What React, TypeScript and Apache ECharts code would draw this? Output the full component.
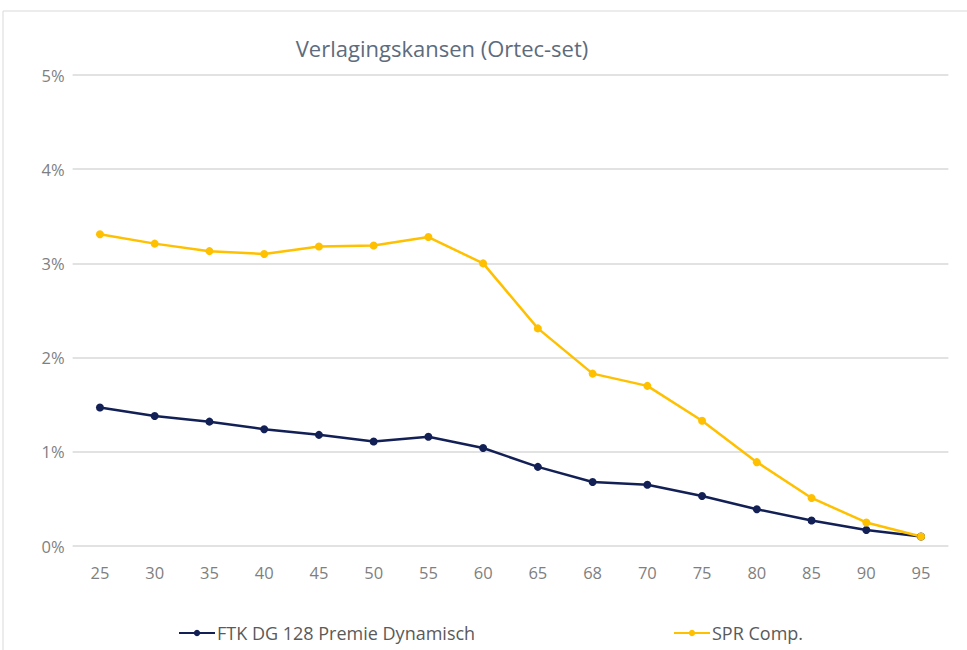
import React, { useEffect, useRef } from "react";
import * as echarts from "echarts";

const categories = ["25", "30", "35", "40", "45", "50", "55", "60", "65", "68", "70", "75", "80", "85", "90", "95"];
const ftkValues = [1.47, 1.38, 1.32, 1.24, 1.18, 1.11, 1.16, 1.04, 0.84, 0.68, 0.65, 0.53, 0.39, 0.27, 0.17, 0.10];
const sprValues = [3.31, 3.21, 3.13, 3.10, 3.18, 3.19, 3.28, 3.00, 2.31, 1.83, 1.70, 1.33, 0.89, 0.51, 0.25, 0.10];
const seriesNames = ["FTK DG 128 Premie Dynamisch", "SPR Comp."];
const titleText = "Verlagingskansen (Ortec-set)";

const FONT = "'Open Sans', 'Noto Sans', sans-serif";

export default function App() {
  const ref = useRef<HTMLDivElement>(null);
  useEffect(() => {
    if (!ref.current) return;
    const chart = echarts.init(ref.current, null, { renderer: "svg" });
    chart.setOption({
      animation: false,
      backgroundColor: "#ffffff",
      graphic: [
        {
          type: "rect",
          shape: { x: 3, y: 11, width: 1000, height: 700 },
          style: { fill: "none", stroke: "#d9d9d9", lineWidth: 1 },
          silent: true,
        },
      ],
      title: {
        text: titleText,
        left: 437,
        textAlign: "center",
        top: 32,
        textStyle: { fontFamily: FONT, fontSize: 22, fontWeight: "normal", color: "#5d6b7c" },
      },
      legend: [
        {
          data: [seriesNames[0]],
          left: 173,
          top: 619,
          itemWidth: 36,
          itemHeight: 8,
          textStyle: { fontFamily: FONT, fontSize: 18, color: "#5a5a5a", padding: [0, 0, 0, -3] },
        },
        {
          data: [seriesNames[1]],
          left: 668,
          top: 619,
          itemWidth: 36,
          itemHeight: 8,
          textStyle: { fontFamily: FONT, fontSize: 18, color: "#5a5a5a", padding: [0, 0, 0, -3] },
        },
      ],
      grid: { left: 72.6, right: 18.6, top: 75, bottom: 104, containLabel: false },
      xAxis: {
        type: "category",
        data: categories,
        boundaryGap: true,
        axisLine: { show: false },
        axisTick: { show: false },
        axisLabel: { fontFamily: FONT, fontSize: 16.5, color: "#7f7f7f", margin: 18 },
      },
      yAxis: {
        type: "value",
        min: 0,
        max: 5,
        interval: 1,
        axisLine: { show: false },
        axisTick: { show: false },
        axisLabel: { fontFamily: FONT, fontSize: 16.5, color: "#7f7f7f", margin: 8, formatter: "{value}%" },
        splitLine: { lineStyle: { color: "#d9d9d9", width: 1.5 } },
      },
      series: [
        {
          name: seriesNames[0],
          type: "line",
          data: ftkValues,
          symbol: "circle",
          symbolSize: 8,
          itemStyle: { color: "#132055" },
          lineStyle: { color: "#132055", width: 2.5 },
        },
        {
          name: seriesNames[1],
          type: "line",
          data: sprValues,
          symbol: "circle",
          symbolSize: 8,
          itemStyle: { color: "#FFC000" },
          lineStyle: { color: "#FFC000", width: 2.5 },
        },
      ],
    });
    return () => chart.dispose();
  }, []);
  return (
    <div
      ref={ref}
      style={{ position: "fixed", left: 0, top: 0, width: 967, height: 650 }}
    />
  );
}
